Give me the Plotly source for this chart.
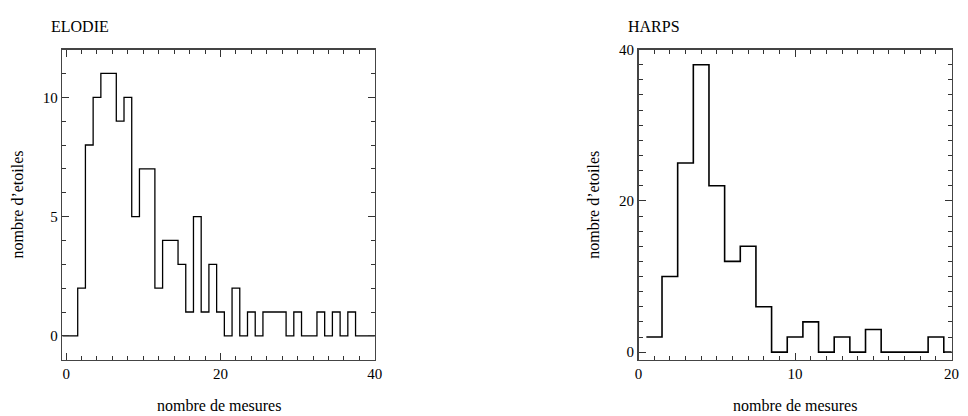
import plotly.graph_objects as go

# ---- data ----
elodie_bins = list(range(0, 41))
elodie_counts = [0, 0, 2, 8, 10, 11, 11, 9, 10, 5,
                 7, 7, 2, 4, 4, 3, 1, 5, 1, 3,
                 1, 0, 2, 0, 1, 0, 1, 1, 1, 0,
                 1, 0, 0, 1, 0, 1, 0, 1, 0, 0,
                 0]
harps_bins = list(range(1, 21))
harps_counts = [2, 10, 25, 38, 22, 12, 14, 6, 0, 2,
                4, 0, 2, 0, 3, 0, 0, 0, 2, 0]

elodie_xticks = [0, 20, 40]
elodie_yticks = [0, 5, 10]
harps_xticks = [0, 10, 20]
harps_yticks = [0, 20, 40]

titles = ["ELODIE", "HARPS"]
xlabel = "nombre de mesures"
ylabel = "nombre d\u2019etoiles"


def steps(bins, counts, width=1.0):
    xs = [b - width / 2 for b in bins] + [bins[-1] + width / 2]
    ys = list(counts) + [counts[-1]]
    return xs, ys


FONT = "Liberation Serif"
W, H = 968, 416

fig = go.Figure()
ex, ey = steps(elodie_bins, elodie_counts)
hx, hy = steps(harps_bins, harps_counts)
fig.add_trace(go.Scatter(x=ex, y=ey, mode="lines", line_shape="hv",
                         line=dict(color="black", width=1.3),
                         xaxis="x", yaxis="y", showlegend=False, hoverinfo="skip"))
fig.add_trace(go.Scatter(x=hx, y=hy, mode="lines", line_shape="hv",
                         line=dict(color="black", width=1.6),
                         xaxis="x2", yaxis="y2", showlegend=False, hoverinfo="skip"))

ydom = [1 - 359.5 / H, 1 - 42.5 / H]
dom1 = [59 / W, 375.5 / W]
dom2 = [642.5 / W, 959.5 / W]


def axis(rng, tickvals, minor_dtick, domain, anchor, ticklen=7):
    return dict(range=rng, domain=domain, anchor=anchor,
                tickmode="array", tickvals=tickvals,
                ticks="inside", ticklen=ticklen, tickwidth=1, tickcolor="#333",
                minor=dict(dtick=minor_dtick, ticks="inside", ticklen=4,
                           tickwidth=1, tickcolor="#333", showgrid=False),
                showline=True, linecolor="#444", linewidth=1.5, mirror="ticks",
                showgrid=False, zeroline=False,
                tickfont=dict(family=FONT, size=15, color="black"))


fig.update_layout(
    width=W, height=H,
    margin=dict(l=0, r=0, t=0, b=0),
    paper_bgcolor="white", plot_bgcolor="white",
    xaxis=axis([-0.5, 40], elodie_xticks, 2, dom1, "y"),
    yaxis=axis([-1, 12], elodie_yticks, 1, ydom, "x"),
    xaxis2=axis([0, 20], harps_xticks, 1, dom2, "y2"),
    yaxis2=axis([-1, 40], harps_yticks, 2, ydom, "x2"),
)

ann = []
for i, (d, t) in enumerate(zip([dom1, dom2], titles)):
    ann.append(dict(text=t, x=d[0] - 13 / W, y=1 - 19 / H, xref="paper", yref="paper",
                    xanchor="left", yanchor="middle", showarrow=False,
                    font=dict(family=FONT, size=16, color="black")))
    ann.append(dict(text=xlabel, x=(d[0] + d[1]) / 2, y=1 - 406 / H, xref="paper",
                    yref="paper", xanchor="center", yanchor="middle", showarrow=False,
                    font=dict(family=FONT, size=16, color="black")))
    ann.append(dict(text=ylabel, x=d[0] - 45 / W, y=(ydom[0] + ydom[1]) / 2,
                    xref="paper", yref="paper", xanchor="center", yanchor="middle",
                    textangle=-90, showarrow=False,
                    font=dict(family=FONT, size=16, color="black")))
fig.update_layout(annotations=ann)

fig.write_html("out.html",
               config={"displayModeBar": False, "staticPlot": True},
               post_script="document.body.style.margin='0px';"
                           "document.body.style.padding='0px';"
                           "document.body.style.overflow='hidden';")
